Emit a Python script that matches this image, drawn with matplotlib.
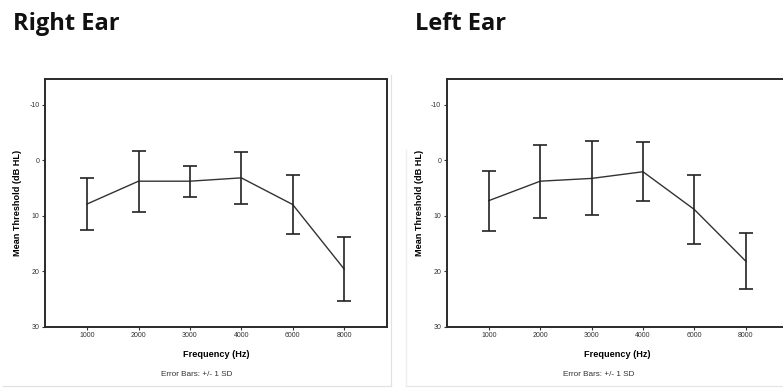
import matplotlib
matplotlib.use("Agg")
import matplotlib.pyplot as plt
from matplotlib.lines import Line2D

frequencies = ["1000", "2000", "3000", "4000", "6000", "8000"]
right_mean = [7.9, 3.8, 3.8, 3.2, 8.0, 19.6]
right_sd = [4.75, 5.5, 2.8, 4.7, 5.3, 5.75]
left_mean = [7.3, 3.8, 3.3, 2.1, 8.9, 18.2]
left_sd = [5.4, 6.55, 6.65, 5.35, 6.25, 5.0]
yticks = [-10, 0, 10, 20, 30]
titles = ["Right Ear", "Left Ear"]

W, H = 783, 389
fig = plt.figure(figsize=(W / 100, H / 100), dpi=100)

def fx(px):
    return px / W

def fy(py):
    return 1 - py / H

# faint grey chart frame lines
frame_lines = [
    ((3, 391), (385.5, 385.5), "#e2e2e2"),
    ((390.5, 390.5), (75, 385.5), "#e2e2e2"),
    ((406, 783), (385.5, 385.5), "#e6e6e6"),
    ((406, 406), (150, 385.5), "#ededed"),
]
for xs_, ys_, c in frame_lines:
    fig.add_artist(Line2D([fx(v) for v in xs_], [fy(v) for v in ys_],
                          transform=fig.transFigure, color=c, linewidth=0.9))

panels = [
    (45, right_mean, right_sd, 13, titles[0]),
    (446.7, left_mean, left_sd, 415, titles[1]),
]
axw = fx(386.7 - 45)
for left_px, means, sds, tx, title in panels:
    ax = fig.add_axes([fx(left_px), fy(326.7), axw, (326.7 - 79) / H])
    xs = list(range(len(frequencies)))
    ax.plot(xs, means, color="#333333", linewidth=1.0)
    ax.errorbar(xs, means, yerr=sds, fmt="none", ecolor="#222222",
                elinewidth=1.2, capsize=4.8, capthick=1.2)
    ax.set_xlim(-0.82, 5.83)
    ax.set_ylim(30, -14.6)
    ax.set_yticks(yticks)
    ax.set_yticklabels([str(t) for t in yticks])
    ax.set_xticks(xs)
    ax.set_xticklabels(frequencies)
    ax.tick_params(axis="both", labelsize=5, length=2.5, width=0.8,
                   colors="#333333", pad=1.5)
    for s in ax.spines.values():
        s.set_linewidth(1.4)
        s.set_color("#2a2a2a")
    ax.set_xlabel("Frequency (Hz)", fontsize=6.6, fontweight="bold",
                  family="Liberation Sans", labelpad=7.5)
    ax.set_ylabel("Mean Threshold (dB HL)", fontsize=6.6, fontweight="bold",
                  family="Liberation Sans", labelpad=5)
    for lab in ax.get_xticklabels() + ax.get_yticklabels():
        lab.set_family("Liberation Sans")
    cx = left_px + (386.7 - 45) / 2 - 19
    fig.text(fx(cx), fy(375), "Error Bars: +/- 1 SD", ha="center", va="center",
             fontsize=5.9, family="Liberation Sans", color="#333333")
    fig.text(fx(tx), fy(29.5), title, ha="left", va="baseline",
             fontsize=17, fontweight="bold", family="Open Sans", color="#111111")

fig.savefig("out.png", dpi=100)
